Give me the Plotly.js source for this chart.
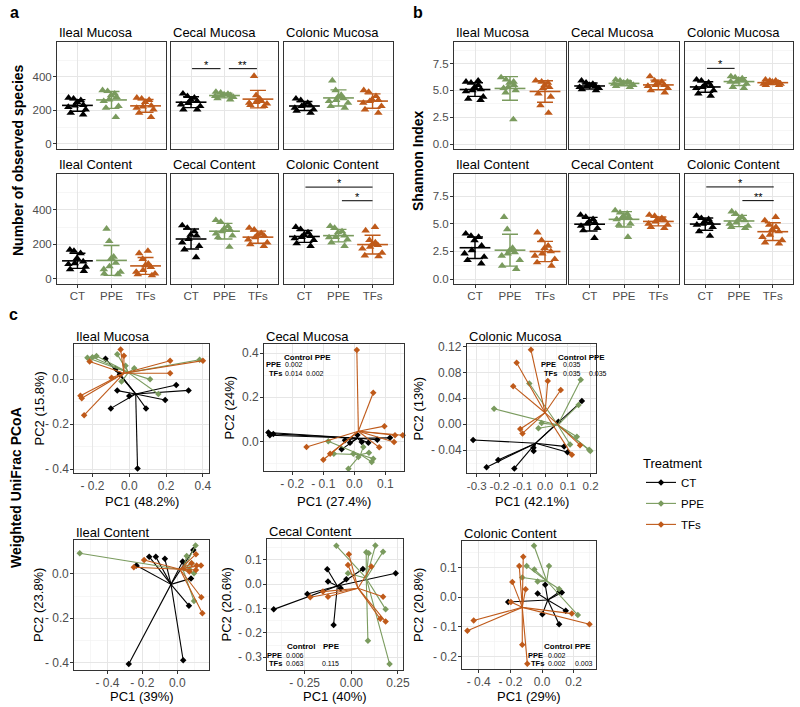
<!DOCTYPE html>
<html>
<head>
<meta charset="utf-8">
<script src="https://cdn.plot.ly/plotly-3.0.1.min.js"></script>
<style>body{margin:0;background:#fff}#fig{width:800px;height:707px}</style>
</head>
<body>
<div id="fig"></div>
<script>
// groups and sites
var groups = ['CT', 'PPE', 'TFs'];
var colors = ['#000000', '#7a9b5e', '#bf5a1a'];
var sites = ['Ileal Mucosa', 'Cecal Mucosa', 'Colonic Mucosa', 'Ileal Content', 'Cecal Content', 'Colonic Content'];

// a: number of observed species (one list per site)
var obsCT = [
  [270, 275, 260, 250, 228, 220, 205, 185, 175, 232],
  [300, 285, 275, 263, 255, 243, 235, 205, 205, 225],
  [270, 260, 245, 233, 225, 215, 205, 198, 185, 228],
  [168, 162, 148, 120, 100, 90, 70, 55, 45, 85],
  [310, 295, 275, 250, 230, 210, 190, 170, 125, 255],
  [300, 288, 268, 255, 248, 242, 235, 225, 205, 190]
];
var obsPPE = [
  [320, 315, 300, 290, 265, 255, 225, 215, 160, 280],
  [310, 305, 298, 295, 290, 288, 285, 280, 272, 265],
  [378, 320, 292, 282, 272, 262, 245, 225, 215, 255],
  [290, 218, 128, 118, 92, 72, 55, 40, 30, 26],
  [340, 330, 305, 290, 275, 262, 250, 240, 185, 285],
  [305, 295, 270, 250, 240, 228, 210, 190, 275, 242]
];
var obsTFs = [
  [275, 270, 250, 228, 222, 215, 205, 185, 160, 262],
  [405, 290, 270, 262, 255, 250, 245, 240, 232, 225],
  [320, 310, 285, 265, 255, 245, 225, 205, 185, 262],
  [162, 148, 115, 88, 78, 68, 50, 40, 30, 26, 20],
  [295, 285, 265, 250, 240, 228, 210, 200, 190, 255],
  [300, 280, 225, 210, 200, 195, 185, 175, 150, 135, 130]
];
// significance: [site, from, to, y, label]
var obsSig = [[1, 0.03, 0.88, 449, '*'], [1, 1.13, 1.97, 449, '**'], [5, 0.03, 2, 532, '*'], [5, 1.1, 2, 453, '*']];

// b: Shannon index
var shanCT = [
  [5.9, 5.8, 5.7, 5.5, 5.3, 5.1, 4.9, 4.4, 4.2, 4.1, 5.0],
  [5.9, 5.7, 5.6, 5.5, 5.4, 5.3, 5.2, 5.1, 5.0, 5.4],
  [6.0, 5.9, 5.7, 5.5, 5.4, 5.3, 5.2, 5.0, 4.7, 4.5],
  [4.1, 3.9, 3.8, 3.5, 3.0, 2.6, 2.3, 2.0, 1.7, 1.4],
  [5.8, 5.6, 5.4, 5.2, 5.1, 5.0, 4.8, 4.6, 4.4, 3.7],
  [5.7, 5.5, 5.4, 5.2, 5.1, 5.0, 4.9, 4.7, 4.3, 3.9]
];
var shanPPE = [
  [6.2, 6.0, 5.8, 5.7, 5.5, 5.3, 5.2, 5.0, 4.8, 2.3],
  [6.0, 5.9, 5.8, 5.7, 5.7, 5.6, 5.5, 5.4, 5.3, 5.6],
  [6.3, 6.2, 6.1, 6.0, 5.9, 5.8, 5.8, 5.6, 5.3, 5.2],
  [5.6, 4.5, 2.8, 2.6, 2.4, 2.3, 2.1, 1.7, 1.2, 0.9],
  [6.2, 6.0, 5.9, 5.7, 5.6, 5.5, 5.4, 5.0, 4.9, 3.8],
  [6.1, 5.9, 5.6, 5.4, 5.3, 5.1, 5.0, 4.8, 4.7, 4.6]
];
var shanTFs = [
  [5.9, 5.8, 5.7, 5.5, 5.3, 5.2, 4.7, 4.4, 3.6, 2.9],
  [6.3, 5.9, 5.8, 5.7, 5.5, 5.5, 5.4, 5.2, 5.0, 4.8],
  [6.0, 5.9, 5.9, 5.8, 5.7, 5.7, 5.6, 5.6, 5.5, 5.5],
  [4.2, 3.5, 3.0, 2.8, 2.5, 2.3, 2.1, 1.8, 1.5, 1.2],
  [5.8, 5.7, 5.5, 5.4, 5.3, 5.2, 5.0, 4.9, 4.7, 4.6],
  [5.6, 5.3, 4.9, 4.7, 4.5, 4.3, 4.0, 3.8, 3.5, 3.3, 3.2]
];
var shanSig = [[2, 0.05, 0.87, 7.05, '*'], [5, 0.03, 2.03, 8.33, '*'], [5, 1.1, 2.03, 7.09, '**']];

// c: weighted UniFrac PCoA, [PC1 values, PC2 values, centroid]
var imCT = [[-0.129, -0.073, -0.065, 0, -0.1, 0.091, 0.045, 0.195, 0.255, 0.322, -0.051],
            [0.092, 0.047, -0.05, -0.074, -0.129, -0.129, -0.396, -0.092, -0.025, -0.049, 0.022], [0.035, -0.065]];
var imPPE = [[-0.227, -0.178, -0.2, -0.065, 0.027, 0.113, 0.158, 0.382, -0.042, -0.02],
             [0.096, 0.104, 0.098, 0.111, 0.049, 0, -0.065, 0.087, -0.01, 0.06], [-0.005, 0.03]];
var imTFs = [[-0.047, -0.029, -0.215, -0.265, -0.258, -0.245, -0.096, 0.222, 0.222, 0.4],
             [0.133, 0.105, 0.079, -0.073, -0.084, -0.159, 0.007, 0.083, 0.027, 0.083], [-0.029, 0.027]];

var cmCT = [[-0.277, -0.272, -0.261, -0.041, -0.03, -0.014, 0.024, 0.045, 0.074, 0.115, 0.01],
            [0.041, 0.029, 0.035, -0.035, 0.006, -0.005, -0.002, -0.005, 0.009, 0.017, 0.03], [0.01, 0.015]];
var cmPPE = [[-0.084, -0.066, -0.019, -0.003, 0.056, 0.061, 0.047, 0.013, 0.029],
             [0.002, -0.055, -0.123, -0.055, -0.092, -0.077, -0.05, -0.07, -0.024], [0.02, -0.059]];
var cmTFs = [[0.008, 0.061, 0.097, 0.131, 0.156, 0.128, 0.08, -0.154, -0.078, -0.1],
             [0.415, 0.221, 0.07, 0.029, 0.029, -0.002, -0.026, -0.024, -0.055, -0.082], [0.013, 0.047]];

var comCT = [[-0.316, -0.206, -0.257, -0.135, -0.051, -0.05, 0.084, 0.099, 0.162, 0.059],
             [-0.024, -0.055, -0.066, -0.068, -0.036, -0.041, -0.034, -0.043, 0.036, 0.004], [-0.041, -0.029]];
var comPPE = [[-0.224, -0.069, 0.157, 0.147, -0.015, -0.029, 0.11, 0.14, 0.194, 0.199],
              [0.024, 0.063, 0.069, 0.03, 0.002, -0.006, -0.031, -0.019, -0.039, -0.041], [0.056, -0.001]];
var comTFs = [[-0.062, -0.125, -0.14, 0.012, 0.069, -0.109, -0.099, 0.118, 0.154],
              [0.115, 0.095, 0.059, 0.067, 0.053, -0.007, -0.014, -0.047, -0.032], [0, 0.018]];

var icCT = [[-0.278, 0.034, 0.067, -0.161, -0.234, -0.071, 0.079, -0.123, 0.092, 0.031],
            [-0.406, -0.389, -0.143, 0.078, 0.038, 0.068, -0.02, 0.078, 0.108, 0.056], [-0.036, -0.047]];
var icPPE = [[-0.559, 0.105, 0.054, 0.082, 0.096, 0.096, 0.07],
             [0.093, 0.128, 0.081, 0.048, 0.003, -0.122, 0.02], [0.034, 0.018]];
var icTFs = [[-0.249, -0.19, 0.107, 0.111, 0.136, 0.107, 0.138, 0.144, 0.082, 0.069],
             [0.03, 0.063, 0.089, 0.038, 0.038, 0.018, -0.105, -0.177, 0.048, 0.011], [0.015, 0.021]];

var ccCT = [[-0.416, -0.236, -0.129, -0.125, -0.095, -0.057, 0.062, 0.238, -0.027],
            [-0.103, -0.04, 0.062, 0.011, -0.167, -0.016, 0.063, 0.045, 0.021], [-0.075, -0.007]];
var ccPPE = [[-0.08, 0.08, 0.129, 0.17, 0.093, 0.089, 0.205, 0.184, -0.018],
             [0.158, 0.132, 0.159, 0.134, 0.127, -0.232, -0.327, -0.103, 0.045], [0.08, 0.025]];
var ccTFs = [[-0.013, -0.018, 0.107, -0.22, -0.125, -0.152, 0.17, 0.155, 0.184],
             [0.123, 0.079, 0.073, -0.053, -0.051, -0.03, -0.051, -0.142, -0.153], [0.036, -0.016]];

var cocCT = [[-0.028, 0.125, 0.108, 0.15, 0.108, 0.002, -0.214, 0.02],
             [0.013, 0.016, 0.018, -0.045, -0.091, -0.057, -0.016, 0.042], [0.036, -0.009]];
var cocPPE = [[-0.051, -0.097, -0.049, 0.044, -0.125, -0.028, 0.108, 0.226],
              [0.174, 0.106, 0.094, 0.106, 0.067, 0.053, 0.028, -0.06], [0.03, 0.055]];
var cocTFs = [[-0.119, -0.144, -0.188, -0.104, -0.432, -0.472, -0.197, -0.125, -0.093, 0.188, 0.3],
              [0.137, 0.106, 0.052, 0.027, -0.078, -0.113, -0.016, -0.16, -0.224, -0.055, -0.091], [-0.125, -0.034]];

var pc1Labels = ['PC1 (48.2%)', 'PC1 (27.4%)', 'PC1 (42.1%)', 'PC1 (39%)', 'PC1 (40%)', 'PC1 (29%)'];
var pc2Labels = ['PC2 (15.8%)', 'PC2 (24%)', 'PC2 (13%)', 'PC2 (23.8%)', 'PC2 (20.6%)', 'PC2 (20.8%)'];

var F = 'Liberation Sans, Arial, sans-serif';
function fx(p) { return p / 800; }
function fy(p) { return 1 - p / 707; }
function mean(a) { var s = 0; a.forEach(function (v) { s += v; }); return s / a.length; }
function sd(a) { var m = mean(a), s = 0; a.forEach(function (v) { s += (v - m) * (v - m); }); return Math.sqrt(s / (a.length - 1)); }
function lab(v, d, tight) { var s = Math.abs(v).toFixed(d); return v < -1e-9 ? (tight ? '-' : '- ') + s : s; }
function halfSteps(t) {
  var st = t[1] - t[0], out = [t[0] - st / 2];
  t.forEach(function (v) { out.push(v + st / 2); });
  return out;
}

var data = [], shapes = [], annotations = [];
var layout = {
  width: 800, height: 707, margin: {l: 0, r: 0, t: 0, b: 0},
  paper_bgcolor: 'white', plot_bgcolor: 'white', showlegend: true,
  font: {family: F, color: '#000'},
  legend: {x: fx(641), y: fy(451), xanchor: 'left', yanchor: 'top',
    title: {text: 'Treatment', font: {size: 13, family: F}},
    font: {size: 11.5, family: F}, bgcolor: 'rgba(0,0,0,0)', itemwidth: 30,
    traceorder: 'grouped', tracegroupgap: 2}
};

var axn = 0;
function baseAxis(fs) {
  return {type: 'linear', showline: true, mirror: true, linecolor: '#333333', linewidth: 1,
    showgrid: true, gridcolor: '#e6e6e6', gridwidth: 1, zeroline: false,
    ticks: 'outside', ticklen: 3, tickwidth: 1, tickcolor: '#333333', tickangle: 0,
    ticklabelstandoff: -1,
    tickfont: {family: F, size: fs, color: '#4d4d4d'}, fixedrange: true};
}
function addAxes(l, r, t, b, xo, yo, fs) {
  axn++;
  var id = axn === 1 ? '' : String(axn);
  layout['xaxis' + id] = Object.assign(baseAxis(fs), xo, {domain: [fx(l), fx(r)], anchor: 'y' + id});
  layout['yaxis' + id] = Object.assign(baseAxis(fs), yo, {domain: [fy(b), fy(t)], anchor: 'x' + id});
  return id;
}
function text(t, x, y, size, opts) {
  annotations.push(Object.assign({text: t, x: x, y: y, xref: 'paper', yref: 'paper', showarrow: false,
    font: {family: F, size: size, color: '#000'}}, opts || {}));
}

// a and b: dot plots with mean and SD
function dotFigure(cols, series, yRange, yTicks, yText, sigs) {
  var rows = [[42, 149], [174, 284]];
  for (var s = 0; s < 6; s++) {
    var c = cols[s % 3], r = rows[Math.floor(s / 3)];
    var left = s % 3 === 0, bottom = s >= 3;
    var id = addAxes(c[0], c[1], r[0], r[1],
      {range: [-0.6, 2.6], tickmode: 'array', tickvals: [0, 1, 2], ticktext: groups,
        showticklabels: bottom, ticks: bottom ? 'outside' : '', ticklabelstandoff: -2},
      {range: yRange, tickmode: 'array', tickvals: yTicks, ticktext: yText,
        showticklabels: left, ticks: left ? 'outside' : '',
        minor: {tickvals: halfSteps(yTicks), showgrid: true, gridcolor: '#f2f2f2', gridwidth: 0.7}}, 11.5);
    text(sites[s], fx(c[0]), fy(r[0] - 9), 13, {xanchor: 'left', yanchor: 'middle'});
    groups.forEach(function (g, gi) {
      var v = series[gi][s];
      data.push({type: 'box', x0: gi, y: v, xaxis: 'x' + id, yaxis: 'y' + id,
        boxpoints: 'all', jitter: 1, pointpos: 0, width: 0.72,
        fillcolor: 'rgba(0,0,0,0)', line: {width: 0, color: colors[gi]}, whiskerwidth: 0,
        marker: {symbol: 'triangle-up', size: 7.5, color: colors[gi]},
        showlegend: false, hoverinfo: 'skip'});
      data.push({type: 'scatter', mode: 'markers', x: [gi], y: [mean(v)], xaxis: 'x' + id, yaxis: 'y' + id,
        error_y: {type: 'data', array: [sd(v)], visible: true, color: colors[gi], thickness: 1.4, width: 8},
        marker: {symbol: 'line-ew', size: 22, color: colors[gi], line: {color: colors[gi], width: 1.6}},
        showlegend: false, hoverinfo: 'skip'});
    });
    sigs.forEach(function (sg) {
      if (sg[0] !== s) return;
      shapes.push({type: 'line', xref: 'x' + id, yref: 'y' + id, x0: sg[1], x1: sg[2], y0: sg[3], y1: sg[3],
        line: {color: '#000', width: 1}});
      annotations.push({text: sg[4], x: (sg[1] + sg[2]) / 2, y: sg[3], xref: 'x' + id, yref: 'y' + id,
        showarrow: false, yanchor: 'bottom', yshift: -4, font: {family: F, size: 11, color: '#000'}});
    });
  }
}

dotFigure([[57, 166], [171, 278], [284, 393]], [obsCT, obsPPE, obsTFs], [-30, 608],
  [0, 200, 400], ['0', '200', '400'], obsSig);
dotFigure([[454, 566], [569, 679], [685, 793]], [shanCT, shanPPE, shanTFs], [-0.45, 9.5],
  [0, 2.5, 5, 7.5], ['0.0', '2.5', '5.0', '7.5'], shanSig);

// c: PCoA spider plots
var pcBoxes = [[74, 209, 344, 473], [264, 404, 344, 471], [467, 596, 344, 473],
               [74, 209, 540, 670], [267, 403, 539, 670], [462, 596, 541, 669]];
var pcSets = [[imCT, imPPE, imTFs], [cmCT, cmPPE, cmTFs], [comCT, comPPE, comTFs],
              [icCT, icPPE, icTFs], [ccCT, ccPPE, ccTFs], [cocCT, cocPPE, cocTFs]];
var pcX = [[-0.30, 0.433], [-0.291, 0.160], [-0.343, 0.224], [-0.592, 0.182], [-0.452, 0.277], [-0.506, 0.341]];
var pcY = [[-0.416, 0.157], [-0.133, 0.442], [-0.075, 0.124], [-0.433, 0.153], [-0.352, 0.186], [-0.242, 0.19]];
var pcXT = [[-0.2, 0, 0.2, 0.4], [-0.2, -0.1, 0, 0.1], [-0.3, -0.2, -0.1, 0, 0.1, 0.2],
            [-0.4, -0.2, 0], [-0.25, 0, 0.25], [-0.4, -0.2, 0, 0.2]];
var pcYT = [[-0.4, -0.2, 0], [0, 0.2, 0.4], [-0.04, 0, 0.04, 0.08, 0.12],
            [-0.4, -0.2, 0], [-0.3, -0.2, -0.1, 0, 0.1], [-0.2, -0.1, 0, 0.1]];
var pcXD = [1, 1, 1, 1, 2, 1], pcYD = [1, 1, 2, 1, 1, 1];
var pc2X = [39, 229, 418, 38, 226, 418];

for (var p = 0; p < 6; p++) {
  var b = pcBoxes[p];
  var tight = p === 2;
  var id = addAxes(b[0], b[1], b[2], b[3],
    {range: pcX[p], tickmode: 'array', tickvals: pcXT[p],
      ticktext: pcXT[p].map(function (v) { return lab(v, pcXD[p], tight); }),
      tickfont: {family: F, size: tight ? 11.5 : 12, color: '#4d4d4d'},
      minor: {tickvals: halfSteps(pcXT[p]), showgrid: true, gridcolor: '#f2f2f2', gridwidth: 0.7}},
    {range: pcY[p], tickmode: 'array', tickvals: pcYT[p], showticklabels: false,
      minor: {tickvals: halfSteps(pcYT[p]), showgrid: true, gridcolor: '#f2f2f2', gridwidth: 0.7}}, 12);
  // y tick labels written next to the tick marks
  pcYT[p].forEach(function (v) {
    annotations.push({text: lab(v, pcYD[p], false), x: fx(b[0] - 4), y: v, xref: 'paper', yref: 'y' + id,
      xanchor: 'right', yanchor: 'middle', showarrow: false, borderpad: 0,
      font: {family: F, size: 12, color: '#4d4d4d'}});
  });
  text(sites[p], fx(b[0]), fy(b[2] - 8), 13, {xanchor: 'left', yanchor: 'middle'});
  text(pc1Labels[p], fx((b[0] + b[1]) / 2), fy(p < 3 ? 501 : 696), 13, {xanchor: 'center', yanchor: 'middle'});
  text(pc2Labels[p], fx(pc2X[p]), fy((b[2] + b[3]) / 2), 13, {xanchor: 'center', yanchor: 'middle', textangle: -90});
  pcSets[p].forEach(function (s, gi) {
    var lx = [], ly = [];
    for (var k = 0; k < s[0].length; k++) {
      lx.push(s[2][0], s[0][k], null);
      ly.push(s[2][1], s[1][k], null);
    }
    data.push({type: 'scatter', mode: 'lines', x: lx, y: ly, xaxis: 'x' + id, yaxis: 'y' + id,
      line: {color: colors[gi], width: 1.1}, showlegend: false, hoverinfo: 'skip', cliponaxis: false});
    data.push({type: 'scatter', mode: 'markers', x: s[0], y: s[1], xaxis: 'x' + id, yaxis: 'y' + id,
      marker: {symbol: 'diamond', size: 5, color: colors[gi]}, showlegend: false, hoverinfo: 'skip', cliponaxis: false});
  });
  if (p === 0) {
    groups.forEach(function (g, gi) {
      data.push({type: 'scatter', mode: 'lines+markers', x: [null], y: [null], name: g, legendgroup: g,
        xaxis: 'x' + id, yaxis: 'y' + id, line: {color: colors[gi], width: 1.1},
        marker: {symbol: 'diamond', size: 5, color: colors[gi]}, showlegend: true});
    });
  }
}

// pairwise test tables inside the PCoA panels
// header: [text, left px, y px]; rows: [label, right edge px, y px, values...]; value columns: left px
var cmHead = [['Control PPE', 283, 357]], cmRows = [['PPE', 282, 365, '0.002'], ['TFs', 283, 373, '0.014', '0.002']], cmCols = [284, 305];
var comHead = [['Control PPE', 557, 357]], comRows = [['PPE', 557, 365, '0.035'], ['TFs', 558, 373, '0.035', '0.035']], comCols = [562, 588];
var ccHead = [['Control', 286, 646], ['PPE', 322, 646]], ccRows = [['PPE', 283, 655, '0.006'], ['TFs', 283, 663, '0.063', '0.115']], ccCols = [285, 321];
var cocHead = [['Control PPE', 543, 646]], cocRows = [['PPE', 544, 655, '0.002'], ['TFs', 545, 663, '0.002', '0.003']], cocCols = [547, 574];
[[cmHead, cmRows, cmCols], [comHead, comRows, comCols], [ccHead, ccRows, ccCols], [cocHead, cocRows, cocCols]].forEach(function (tb) {
  tb[0].forEach(function (h) {
    text('<b>' + h[0] + '</b>', fx(h[1]), fy(h[2]), 8, {xanchor: 'left', yanchor: 'middle', borderpad: 0});
  });
  tb[1].forEach(function (r) {
    text('<b>' + r[0] + '</b>', fx(r[1]), fy(r[2]), 7.5, {xanchor: 'right', yanchor: 'middle', borderpad: 0});
    for (var k = 3; k < r.length; k++) {
      text(r[k], fx(tb[2][k - 3]), fy(r[2]), 7, {xanchor: 'left', yanchor: 'middle', borderpad: 0});
    }
  });
});

// panel letters and shared axis titles
text('<b>a</b>', fx(8), fy(13), 16, {xanchor: 'left', yanchor: 'middle'});
text('<b>b</b>', fx(411), fy(13), 16, {xanchor: 'left', yanchor: 'middle'});
text('<b>c</b>', fx(7), fy(315), 16, {xanchor: 'left', yanchor: 'middle'});
text('<b>Number of observed species</b>', fx(18), fy(160), 14, {textangle: -90, xanchor: 'center', yanchor: 'middle'});
text('<b>Shannon Index</b>', fx(418), fy(161), 14, {textangle: -90, xanchor: 'center', yanchor: 'middle'});
text('<b>Weighted UniFrac PCoA</b>', fx(16), fy(488), 14, {textangle: -90, xanchor: 'center', yanchor: 'middle'});

layout.shapes = shapes;
layout.annotations = annotations;
Plotly.newPlot('fig', data, layout, {displayModeBar: false, staticPlot: true});
</script>
</body>
</html>
